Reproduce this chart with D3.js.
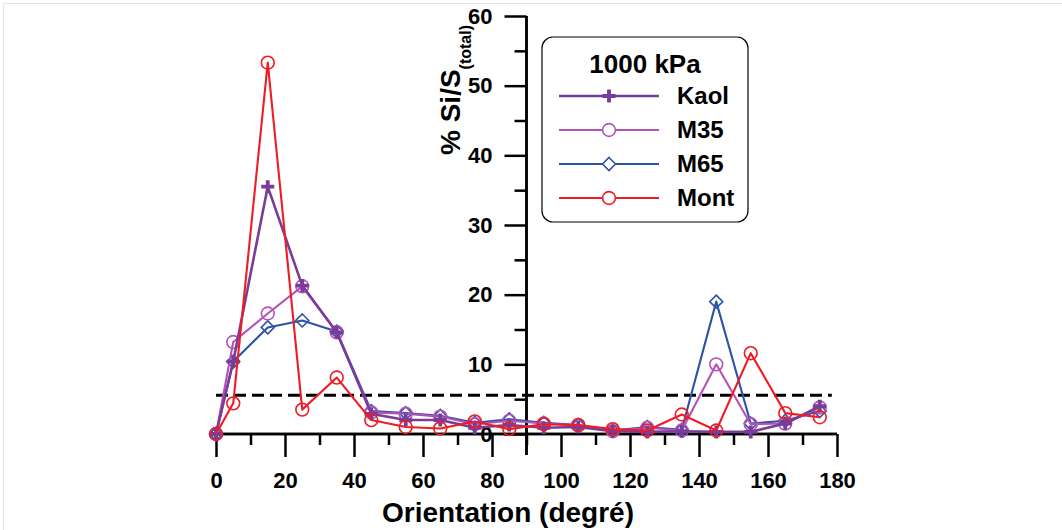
<!DOCTYPE html>
<html><head><meta charset="utf-8">
<script src="https://cdn.jsdelivr.net/npm/d3@7"></script>
<style>
html,body{margin:0;padding:0;background:#fff;}
svg{display:block;font-family:"Liberation Sans",Arial,sans-serif;}
</style></head>
<body><svg id="c" width="1062" height="530"></svg>
<script>
const orientations = [0,5,15,25,35,45,55,65,75,85,95,105,115,125,135,145,155,165,175];
const kaol = [0,10.4,35.5,21.3,14.6,2.9,2.0,2.0,0.9,1.3,0.9,1.0,0.4,0.3,0.4,0.3,0.3,1.5,4.0];
const m35  = [0,13.2,17.3,21.2,14.6,3.1,2.9,2.5,1.4,1.9,1.5,1.2,0.4,0.9,0.5,10.0,1.4,1.5,3.8];
const m65  = [0,10.4,15.3,16.3,14.7,3.3,3.0,2.6,1.6,2.1,1.6,1.3,0.5,1.0,0.6,19.0,1.5,1.9,3.3];
const mont = [0,4.4,53.3,3.5,8.1,2.0,1.0,0.8,1.8,0.7,1.4,1.3,0.7,0.5,2.8,0.5,11.6,3.0,2.4];
const seriesNames = ["Kaol","M35","M65","Mont"];
const xMajorTicks = [0,20,40,60,80,100,120,140,160,180];
const xMinorTicks = [10,30,50,70,90,110,130,150,170];
const yMajorTicks = [0,10,20,30,40,50,60];
const yMinorTicks = [5,15,25,35,45,55];
const referenceLevel = 100/18;
const legendTitle = "1000 kPa";
const xTitle = "Orientation (degré)";

const svg = d3.select("#c");
const x = d3.scaleLinear().domain([0,180]).range([216,837]);
const y = d3.scaleLinear().domain([0,60]).range([434,16]);
const x90 = x(90);

// faint frame
svg.append("line").attr("x1",3).attr("x2",1062).attr("y1",3.5).attr("y2",3.5).attr("stroke","#e6e6e6");
svg.append("line").attr("x1",3.5).attr("x2",3.5).attr("y1",3).attr("y2",530).attr("stroke","#e6e6e6");

const styles = {
  Kaol:{color:"#7A3C99", width:2.6, marker:"plus"},
  M35:{color:"#B552B8", width:2.1, marker:"circle"},
  M65:{color:"#2E52A6", width:2.1, marker:"diamond"},
  Mont:{color:"#EE1C24", width:2.1, marker:"circle"}
};
const dataMap = {Kaol:kaol, M35:m35, M65:m65, Mont:mont};

// X axis
const gx = svg.append("g").attr("transform",`translate(0,${y(0)})`);
gx.call(d3.axisBottom(x).tickValues(xMajorTicks).tickSize(23).tickPadding(15).tickFormat(d3.format("d")));
gx.append("g").call(d3.axisBottom(x).tickValues(xMinorTicks).tickSize(11).tickFormat(""));
gx.selectAll(".domain").attr("d",`M${x(0)},0H${x(180)}`).attr("stroke","#000").attr("stroke-width",2.5);
gx.selectAll(".tick line").attr("stroke","#000").attr("stroke-width",2.5);
gx.selectAll(".tick text").attr("fill","#000").style("font-size","22px").style("font-weight","bold").style("font-family","'Liberation Sans',Arial,sans-serif");

// Y axis at x=90
const gy = svg.append("g").attr("transform",`translate(${x90},0)`);
gy.call(d3.axisLeft(y).tickValues(yMajorTicks).tickSize(22).tickPadding(12).tickFormat(d3.format("d")));
gy.append("g").call(d3.axisLeft(y).tickValues(yMinorTicks).tickSize(12).tickFormat(""));
gy.selectAll(".domain").attr("d",`M0,${y(60)}V${y(0)+21}`).attr("stroke","#000").attr("stroke-width",2.5);
gy.selectAll(".tick line").attr("stroke","#000").attr("stroke-width",2.5);
gy.selectAll(".tick text").attr("fill","#000").style("font-size","22px").style("font-weight","bold").style("font-family","'Liberation Sans',Arial,sans-serif");

// reference dashed line
svg.append("line").attr("x1",x(0)).attr("x2",x(178.5)).attr("y1",y(referenceLevel)).attr("y2",y(referenceLevel))
  .attr("stroke","#000").attr("stroke-width",3).attr("stroke-dasharray","12,6");

function drawMarker(g, type, color, cx, cy, fill){
  if(type==="plus"){
    g.append("path").attr("d",`M${cx-6.5},${cy}H${cx+6.5}M${cx},${cy-6.5}V${cy+6.5}`)
      .attr("stroke",color).attr("stroke-width",3.8).attr("fill","none");
  } else if(type==="circle"){
    g.append("circle").attr("cx",cx).attr("cy",cy).attr("r",6.4).attr("fill",fill).attr("stroke",color).attr("stroke-width",1.6);
  } else {
    const r=6.5;
    g.append("path").attr("d",`M${cx},${cy-r}L${cx+r},${cy}L${cx},${cy+r}L${cx-r},${cy}Z`)
      .attr("fill",fill).attr("stroke",color).attr("stroke-width",1.6);
  }
}

const line = d3.line().x(d=>x(d[0])).y(d=>y(d[1]));
["M65","M35","Kaol","Mont"].forEach(name=>{
  const st = styles[name];
  const pts = orientations.map((o,i)=>[o,dataMap[name][i]]);
  const g = svg.append("g");
  g.append("path").datum(pts).attr("d",line).attr("fill","none").attr("stroke",st.color).attr("stroke-width",st.width).attr("stroke-linejoin","round");
  pts.forEach(p=>drawMarker(g, st.marker, st.color, x(p[0]), y(p[1]), "none"));
});

// axis titles
svg.append("text").attr("x",508).attr("y",522).attr("text-anchor","middle")
  .style("font-size","28px").style("font-weight","bold").text(xTitle);
const yt = svg.append("text").attr("transform","translate(460,155) rotate(-90)")
  .style("font-size","28px").style("font-weight","bold");
yt.append("tspan").text("% Si/S");
yt.append("tspan").attr("dy",11).style("font-size","16px").text("(total)");

// legend
const lg = svg.append("g");
lg.append("rect").attr("x",542).attr("y",37).attr("width",206).attr("height",185).attr("rx",11)
  .attr("fill","#fff").attr("stroke","#000").attr("stroke-width",1.2);
lg.append("text").attr("x",645).attr("y",73).attr("text-anchor","middle")
  .style("font-size","26px").style("font-weight","bold").text(legendTitle);
seriesNames.forEach((name,i)=>{
  const st = styles[name];
  const ry = 96 + i*34;
  lg.append("line").attr("x1",559).attr("x2",659).attr("y1",ry).attr("y2",ry).attr("stroke",st.color).attr("stroke-width",st.width);
  drawMarker(lg, st.marker, st.color, 609, ry, "#fff");
  lg.append("text").attr("x",677).attr("y",ry+8).style("font-size","24px").style("font-weight","bold").text(name);
});
</script></body></html>
